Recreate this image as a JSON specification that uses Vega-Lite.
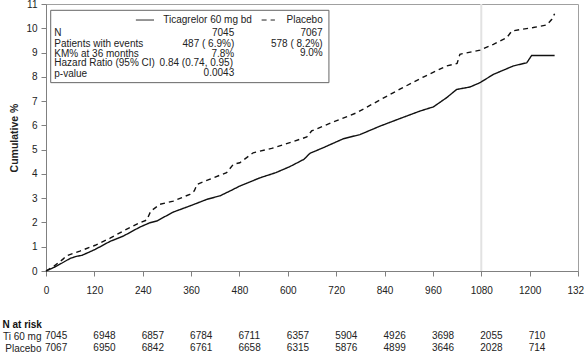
{
  "$schema": "https://vega.github.io/schema/vega-lite/v6.json",
  "padding": {"left": 2, "top": -2, "right": 0, "bottom": 0},
  "background": "white",
  "config": {
    "font": "Liberation Sans",
    "view": {"stroke": null},
    "axis": {"labelFont": "Liberation Sans", "titleFont": "Liberation Sans", "labelColor": "#222", "grid": false},
    "axisX": {"labelFontSize": 10, "tickSize": 5, "labelPadding": 9, "domainColor": "#808080", "tickColor": "#808080", "labelFlush": false, "labelOverlap": false},
    "axisY": {"labelFontSize": 10, "tickSize": 5, "labelPadding": 4, "domainColor": "#808080", "tickColor": "#808080", "labelFlush": false, "labelOverlap": false},
    "concat": {"spacing": 24}
  },
  "datasets": {
    "km": [
      {"group": "Ticagrelor 60 mg bd", "day": 0, "pct": 0},
      {"group": "Ticagrelor 60 mg bd", "day": 20, "pct": 0.15},
      {"group": "Ticagrelor 60 mg bd", "day": 40, "pct": 0.33},
      {"group": "Ticagrelor 60 mg bd", "day": 60, "pct": 0.52},
      {"group": "Ticagrelor 60 mg bd", "day": 75, "pct": 0.6},
      {"group": "Ticagrelor 60 mg bd", "day": 90, "pct": 0.65},
      {"group": "Ticagrelor 60 mg bd", "day": 122, "pct": 0.89},
      {"group": "Ticagrelor 60 mg bd", "day": 159, "pct": 1.22},
      {"group": "Ticagrelor 60 mg bd", "day": 192, "pct": 1.44},
      {"group": "Ticagrelor 60 mg bd", "day": 233, "pct": 1.81},
      {"group": "Ticagrelor 60 mg bd", "day": 258, "pct": 1.99},
      {"group": "Ticagrelor 60 mg bd", "day": 275, "pct": 2.06},
      {"group": "Ticagrelor 60 mg bd", "day": 316, "pct": 2.43},
      {"group": "Ticagrelor 60 mg bd", "day": 357, "pct": 2.68},
      {"group": "Ticagrelor 60 mg bd", "day": 399, "pct": 2.95},
      {"group": "Ticagrelor 60 mg bd", "day": 432, "pct": 3.1},
      {"group": "Ticagrelor 60 mg bd", "day": 457, "pct": 3.3},
      {"group": "Ticagrelor 60 mg bd", "day": 481, "pct": 3.5},
      {"group": "Ticagrelor 60 mg bd", "day": 531, "pct": 3.84},
      {"group": "Ticagrelor 60 mg bd", "day": 570, "pct": 4.05},
      {"group": "Ticagrelor 60 mg bd", "day": 605, "pct": 4.3},
      {"group": "Ticagrelor 60 mg bd", "day": 640, "pct": 4.6},
      {"group": "Ticagrelor 60 mg bd", "day": 655, "pct": 4.85},
      {"group": "Ticagrelor 60 mg bd", "day": 688, "pct": 5.08},
      {"group": "Ticagrelor 60 mg bd", "day": 738, "pct": 5.45},
      {"group": "Ticagrelor 60 mg bd", "day": 779, "pct": 5.62},
      {"group": "Ticagrelor 60 mg bd", "day": 829, "pct": 5.97},
      {"group": "Ticagrelor 60 mg bd", "day": 878, "pct": 6.28},
      {"group": "Ticagrelor 60 mg bd", "day": 928, "pct": 6.59},
      {"group": "Ticagrelor 60 mg bd", "day": 961, "pct": 6.76},
      {"group": "Ticagrelor 60 mg bd", "day": 994, "pct": 7.14},
      {"group": "Ticagrelor 60 mg bd", "day": 1019, "pct": 7.48},
      {"group": "Ticagrelor 60 mg bd", "day": 1052, "pct": 7.58},
      {"group": "Ticagrelor 60 mg bd", "day": 1077, "pct": 7.76},
      {"group": "Ticagrelor 60 mg bd", "day": 1110, "pct": 8.1},
      {"group": "Ticagrelor 60 mg bd", "day": 1160, "pct": 8.45},
      {"group": "Ticagrelor 60 mg bd", "day": 1193, "pct": 8.58},
      {"group": "Ticagrelor 60 mg bd", "day": 1205, "pct": 8.88},
      {"group": "Ticagrelor 60 mg bd", "day": 1262, "pct": 8.88},
      {"group": "Placebo", "day": 0, "pct": 0},
      {"group": "Placebo", "day": 20, "pct": 0.2},
      {"group": "Placebo", "day": 43, "pct": 0.5},
      {"group": "Placebo", "day": 50, "pct": 0.62},
      {"group": "Placebo", "day": 84, "pct": 0.82},
      {"group": "Placebo", "day": 122, "pct": 1.06},
      {"group": "Placebo", "day": 159, "pct": 1.35},
      {"group": "Placebo", "day": 192, "pct": 1.65},
      {"group": "Placebo", "day": 233, "pct": 1.99},
      {"group": "Placebo", "day": 250, "pct": 2.1},
      {"group": "Placebo", "day": 260, "pct": 2.47},
      {"group": "Placebo", "day": 283, "pct": 2.75},
      {"group": "Placebo", "day": 316, "pct": 2.88},
      {"group": "Placebo", "day": 357, "pct": 3.16},
      {"group": "Placebo", "day": 368, "pct": 3.3},
      {"group": "Placebo", "day": 375, "pct": 3.57},
      {"group": "Placebo", "day": 415, "pct": 3.84},
      {"group": "Placebo", "day": 448, "pct": 4.05},
      {"group": "Placebo", "day": 465, "pct": 4.4},
      {"group": "Placebo", "day": 481, "pct": 4.46},
      {"group": "Placebo", "day": 514, "pct": 4.87},
      {"group": "Placebo", "day": 560, "pct": 5.05},
      {"group": "Placebo", "day": 605, "pct": 5.29},
      {"group": "Placebo", "day": 647, "pct": 5.52},
      {"group": "Placebo", "day": 659, "pct": 5.77},
      {"group": "Placebo", "day": 713, "pct": 6.14},
      {"group": "Placebo", "day": 771, "pct": 6.52},
      {"group": "Placebo", "day": 829, "pct": 7.05},
      {"group": "Placebo", "day": 878, "pct": 7.49},
      {"group": "Placebo", "day": 936, "pct": 7.99},
      {"group": "Placebo", "day": 994, "pct": 8.45},
      {"group": "Placebo", "day": 1020, "pct": 8.55},
      {"group": "Placebo", "day": 1027, "pct": 8.93},
      {"group": "Placebo", "day": 1077, "pct": 9.1},
      {"group": "Placebo", "day": 1110, "pct": 9.34},
      {"group": "Placebo", "day": 1143, "pct": 9.61},
      {"group": "Placebo", "day": 1156, "pct": 9.89},
      {"group": "Placebo", "day": 1209, "pct": 10.03},
      {"group": "Placebo", "day": 1243, "pct": 10.14},
      {"group": "Placebo", "day": 1255, "pct": 10.37},
      {"group": "Placebo", "day": 1262, "pct": 10.6}
    ],
    "legendBox": [{"x1": 11.7, "x2": 702, "y1": 7.76, "y2": 10.74}],
    "legendLines": [
      {"group": "Ticagrelor 60 mg bd", "x1": 223, "x2": 268, "y": 10.34},
      {"group": "Placebo", "x1": 535, "x2": 568, "y": 10.34}
    ],
    "legendLeft": [
      {"text": "Ticagrelor 60 mg bd", "day": 291, "pct": 10.34},
      {"text": "Placebo", "day": 597, "pct": 10.34},
      {"text": "N", "day": 20.6, "pct": 9.82},
      {"text": "Patients with events", "day": 20.6, "pct": 9.37},
      {"text": "KM% at 36 months", "day": 20.6, "pct": 8.95},
      {"text": "Hazard Ratio (95% CI)", "day": 20.6, "pct": 8.58},
      {"text": "p-value", "day": 20.6, "pct": 8.13}
    ],
    "legendRight": [
      {"text": "7045", "day": 467, "pct": 9.8},
      {"text": "487 ( 6.9%)", "day": 467, "pct": 9.35},
      {"text": "7.8%", "day": 467, "pct": 8.93},
      {"text": "0.84 (0.74, 0.95)", "day": 464, "pct": 8.58},
      {"text": "0.0043", "day": 467, "pct": 8.15},
      {"text": "7067", "day": 686.5, "pct": 9.8},
      {"text": "578 ( 8.2%)", "day": 686.5, "pct": 9.35},
      {"text": "9.0%", "day": 686.5, "pct": 8.97}
    ],
    "risk": [
      {"row": "Ti 60 mg", "day": 0, "n": 7045},
      {"row": "Ti 60 mg", "day": 120, "n": 6948},
      {"row": "Ti 60 mg", "day": 240, "n": 6857},
      {"row": "Ti 60 mg", "day": 360, "n": 6784},
      {"row": "Ti 60 mg", "day": 480, "n": 6711},
      {"row": "Ti 60 mg", "day": 600, "n": 6357},
      {"row": "Ti 60 mg", "day": 720, "n": 5904},
      {"row": "Ti 60 mg", "day": 840, "n": 4926},
      {"row": "Ti 60 mg", "day": 960, "n": 3698},
      {"row": "Ti 60 mg", "day": 1080, "n": 2055},
      {"row": "Ti 60 mg", "day": 1200, "n": 710},
      {"row": "Placebo", "day": 0, "n": 7067},
      {"row": "Placebo", "day": 120, "n": 6950},
      {"row": "Placebo", "day": 240, "n": 6842},
      {"row": "Placebo", "day": 360, "n": 6761},
      {"row": "Placebo", "day": 480, "n": 6658},
      {"row": "Placebo", "day": 600, "n": 6315},
      {"row": "Placebo", "day": 720, "n": 5876},
      {"row": "Placebo", "day": 840, "n": 4899},
      {"row": "Placebo", "day": 960, "n": 3646},
      {"row": "Placebo", "day": 1080, "n": 2028},
      {"row": "Placebo", "day": 1200, "n": 714}
    ],
    "ref": [{"day": 1080}]
  },
  "vconcat": [
    {
      "width": 532,
      "height": 267,
      "view": {"stroke": "#a0a0a0", "strokeWidth": 1},
      "layer": [
        {
          "data": {"name": "ref"},
          "mark": {"type": "rule", "color": "#e2e2e2", "strokeWidth": 2},
          "encoding": {
            "x": {"field": "day", "type": "quantitative", "scale": {"domain": [0, 1320], "nice": false},
              "axis": {"values": [0, 120, 240, 360, 480, 600, 720, 840, 960, 1080, 1200, 1320], "format": "d", "title": null}}
          }
        },
        {
          "data": {"name": "km"},
          "mark": {"type": "line", "color": "#111", "strokeWidth": 1.4, "interpolate": "linear"},
          "encoding": {
            "x": {"field": "day", "type": "quantitative", "scale": {"domain": [0, 1320], "nice": false},
              "axis": {"values": [0, 120, 240, 360, 480, 600, 720, 840, 960, 1080, 1200, 1320], "format": "d", "title": null}},
            "y": {"field": "pct", "type": "quantitative", "scale": {"domain": [0, 11], "nice": false},
              "axis": {"values": [0, 1, 2, 3, 4, 5, 6, 7, 8, 9, 10, 11], "title": "Cumulative %", "titleFontSize": 10.5, "titleFontWeight": "bold", "titleColor": "#222", "titlePadding": 6}},
            "detail": {"field": "group"},
            "strokeDash": {"field": "group", "type": "nominal", "scale": {"domain": ["Ticagrelor 60 mg bd", "Placebo"], "range": [[1, 0], [5, 4]]}, "legend": null}
          }
        },
        {
          "data": {"name": "legendBox"},
          "mark": {"type": "rect", "fill": "white", "stroke": "#666", "strokeWidth": 1},
          "encoding": {
            "x": {"field": "x1", "type": "quantitative", "scale": {"domain": [0, 1320], "nice": false},
              "axis": {"values": [0, 120, 240, 360, 480, 600, 720, 840, 960, 1080, 1200, 1320], "format": "d", "title": null}},
            "x2": {"field": "x2"},
            "y": {"field": "y1", "type": "quantitative", "scale": {"domain": [0, 11], "nice": false},
              "axis": {"values": [0, 1, 2, 3, 4, 5, 6, 7, 8, 9, 10, 11], "title": "Cumulative %", "titleFontSize": 10.5, "titleFontWeight": "bold", "titleColor": "#222", "titlePadding": 6}},
            "y2": {"field": "y2"}
          }
        },
        {
          "data": {"name": "legendLines"},
          "mark": {"type": "rule", "color": "#222", "strokeWidth": 1},
          "encoding": {
            "x": {"field": "x1", "type": "quantitative", "scale": {"domain": [0, 1320], "nice": false},
              "axis": {"values": [0, 120, 240, 360, 480, 600, 720, 840, 960, 1080, 1200, 1320], "format": "d", "title": null}},
            "x2": {"field": "x2"},
            "y": {"field": "y", "type": "quantitative", "scale": {"domain": [0, 11], "nice": false},
              "axis": {"values": [0, 1, 2, 3, 4, 5, 6, 7, 8, 9, 10, 11], "title": "Cumulative %", "titleFontSize": 10.5, "titleFontWeight": "bold", "titleColor": "#222", "titlePadding": 6}},
            "strokeDash": {"field": "group", "type": "nominal", "scale": {"domain": ["Ticagrelor 60 mg bd", "Placebo"], "range": [[1, 0], [3, 3]]}, "legend": null}
          }
        },
        {
          "data": {"name": "legendLeft"},
          "mark": {"type": "text", "align": "left", "baseline": "middle", "fontSize": 10, "color": "#222"},
          "encoding": {
            "x": {"field": "day", "type": "quantitative", "scale": {"domain": [0, 1320], "nice": false},
              "axis": {"values": [0, 120, 240, 360, 480, 600, 720, 840, 960, 1080, 1200, 1320], "format": "d", "title": null}},
            "y": {"field": "pct", "type": "quantitative", "scale": {"domain": [0, 11], "nice": false},
              "axis": {"values": [0, 1, 2, 3, 4, 5, 6, 7, 8, 9, 10, 11], "title": "Cumulative %", "titleFontSize": 10.5, "titleFontWeight": "bold", "titleColor": "#222", "titlePadding": 6}},
            "text": {"field": "text"}
          }
        },
        {
          "data": {"name": "legendRight"},
          "mark": {"type": "text", "align": "right", "baseline": "middle", "fontSize": 10, "color": "#222"},
          "encoding": {
            "x": {"field": "day", "type": "quantitative", "scale": {"domain": [0, 1320], "nice": false},
              "axis": {"values": [0, 120, 240, 360, 480, 600, 720, 840, 960, 1080, 1200, 1320], "format": "d", "title": null}},
            "y": {"field": "pct", "type": "quantitative", "scale": {"domain": [0, 11], "nice": false},
              "axis": {"values": [0, 1, 2, 3, 4, 5, 6, 7, 8, 9, 10, 11], "title": "Cumulative %", "titleFontSize": 10.5, "titleFontWeight": "bold", "titleColor": "#222", "titlePadding": 6}},
            "text": {"field": "text"}
          }
        }
      ]
    },
    {
      "width": 532,
      "height": 24,
      "view": {"stroke": null},
      "title": {"text": "N at risk", "anchor": "start", "frame": "bounds", "fontSize": 10, "fontWeight": "bold", "color": "#111", "offset": 0, "font": "Liberation Sans"},
      "data": {"name": "risk"},
      "mark": {"type": "text", "align": "left", "baseline": "middle", "fontSize": 10, "color": "#222", "dx": -1},
      "encoding": {
        "x": {"field": "day", "type": "quantitative", "scale": {"domain": [0, 1320], "nice": false}, "axis": null},
        "y": {"field": "row", "type": "nominal", "sort": ["Ti 60 mg", "Placebo"], "scale": {"paddingInner": 0, "paddingOuter": 0},
          "axis": {"title": null, "domain": false, "ticks": false, "labelFontSize": 10, "labelPadding": 5, "labelColor": "#222"}},
        "text": {"field": "n", "type": "quantitative", "format": "d"}
      }
    }
  ]
}
